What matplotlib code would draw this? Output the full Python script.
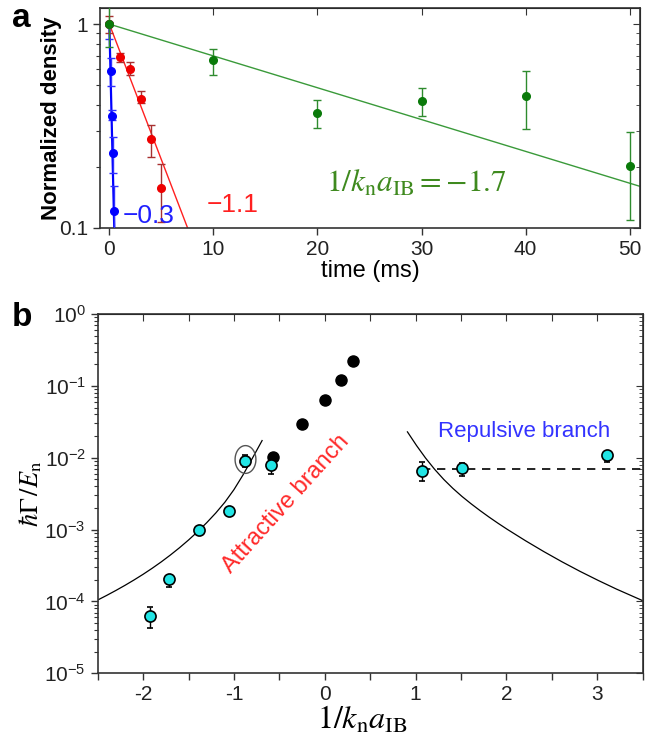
import matplotlib
matplotlib.use("Agg")
import matplotlib.pyplot as plt
import numpy as np
from matplotlib.path import Path
from matplotlib.ticker import FixedLocator, LogLocator, NullFormatter

plt.rcParams["font.family"] = ["Liberation Sans", "DejaVu Sans"]
plt.rcParams["mathtext.fontset"] = "stix"

# --- panel a: density decay ------------------------------------------------
green_t = [0, 10, 20, 30, 40, 50]
green_n = [1.0, 0.667, 0.367, 0.418, 0.445, 0.202]
green_lo = [0.77, 0.56, 0.31, 0.354, 0.305, 0.110]
green_hi = [1.3, 0.754, 0.425, 0.484, 0.59, 0.297]
green_fit_t = [0, 51]
green_fit_n = [1.0, 0.16]

red_t = [0, 1, 2, 3, 4, 5]
red_n = [1.0, 0.69, 0.60, 0.43, 0.273, 0.157]
red_lo = [0.9, 0.653, 0.56, 0.41, 0.224, 0.107]
red_hi = [1.09, 0.723, 0.65, 0.47, 0.32, 0.206]
red_fit_t = [0, 7.52]
red_fit_n = [1.0, 0.1]

blue_t = [0, 0.19, 0.29, 0.35, 0.45]
blue_n = [1.0, 0.59, 0.355, 0.234, 0.121]
blue_lo = [0.85, 0.498, 0.338, 0.187, 0.09]
blue_hi = [1.0, 0.684, 0.378, 0.28, 0.161]
blue_fit_t = [0, 0.47]
blue_fit_n = [1.0, 0.1]

# --- panel b: decay rate vs interaction -------------------------------------
att_x = [-1.92, -1.71, -1.39, -1.055, -0.88, -0.59]
att_y = [6.3e-5, 2.04e-4, 9.8e-4, 1.84e-3, 9.1e-3, 8.0e-3]
att_lo = [4.3e-5, 1.6e-4, 9.0e-4, 1.7e-3, 7.4e-3, 5.9e-3]
att_hi = [8.3e-5, 2.3e-4, 1.05e-3, 2.0e-3, 1.08e-2, 9.6e-3]

rep_x = [1.075, 1.51, 3.11]
rep_y = [6.6e-3, 7.1e-3, 1.08e-2]
rep_lo = [4.8e-3, 5.5e-3, 8.6e-3]
rep_hi = [8.65e-3, 8.5e-3, 1.2e-2]

blk_x = [-0.57, -0.254, 0.0, 0.184, 0.31]
blk_y = [1.04e-2, 2.98e-2, 6.4e-2, 0.121, 0.222]
blk_lo = [0.95e-2, 2.8e-2, 6.0e-2, 0.113, 0.20]
blk_hi = [1.15e-2, 3.1e-2, 6.8e-2, 0.128, 0.235]

plateau_x = [1.075, 3.5]
plateau_y = [6.9e-3, 6.9e-3]

# theory curves
att_curve_x = [-2.5, -2.4, -2.3, -2.2, -2.1, -2.0, -1.9, -1.8, -1.7, -1.6,
               -1.5, -1.4, -1.3, -1.2, -1.1, -1.0, -0.9, -0.8, -0.69]
att_curve_y = [1.047e-4, 1.216e-4, 1.422e-4, 1.675e-4, 1.991e-4, 2.388e-4,
               2.897e-4, 3.556e-4, 4.426e-4, 5.585e-4, 7.161e-4, 9.354e-4,
               1.247e-3, 1.702e-3, 2.404e-3, 3.597e-3, 5.768e-3, 9.683e-3,
               1.734e-2]
rep_curve_x = [0.91, 1.01, 1.11, 1.21, 1.31, 1.41, 1.51, 1.61, 1.71, 1.81,
               1.91, 2.01, 2.21, 2.41, 2.61, 2.81, 3.01, 3.21, 3.5]
rep_curve_y = [2.291e-2, 1.479e-2, 9.886e-3, 6.887e-3, 4.989e-3, 3.750e-3,
               2.897e-3, 2.291e-3, 1.837e-3, 1.489e-3, 1.219e-3, 1.007e-3,
               6.998e-4, 4.955e-4, 3.573e-4, 2.624e-4, 1.963e-4, 1.489e-4,
               1.026e-4]

circled_pt = (-0.883, 9.5e-3)


def yerr(vals, lo, hi):
    v = np.array(vals)
    return [v - np.array(lo), np.array(hi) - v]


def frame(ax):
    # bottom/left ticks outward, top/right ticks inward (Origin style)
    for s in ax.spines.values():
        s.set_color("#333333")
        s.set_linewidth(1.2)
    ax.tick_params(which="major", direction="out", length=5, width=1.0,
                   labelsize=15, colors="#333333", labelcolor="#222222")
    ax.tick_params(which="minor", direction="out", length=3, width=0.8,
                   colors="#333333")
    top = ax.secondary_xaxis("top")
    top.tick_params(which="both", direction="in", labeltop=False, length=5,
                    colors="#333333")
    top.set_xticks(ax.get_xticks())
    right = ax.secondary_yaxis("right")
    right.tick_params(which="major", direction="in", labelright=False,
                      length=5, colors="#333333")
    right.tick_params(which="minor", direction="in", length=3,
                      colors="#333333")


fig = plt.figure(figsize=(6.6, 7.45), dpi=100)
ax_a = fig.add_axes([0.1515, 0.694, 0.8182, 0.2953])
ax_b = fig.add_axes([0.148, 0.0962, 0.8258, 0.4823])

# --- panel a ---------------------------------------------------------------
ax_a.set_yscale("log")
ax_a.plot(green_fit_t, green_fit_n, color="#3a9a3a", lw=1.0, zorder=2)
ax_a.plot(red_fit_t, red_fit_n, color="#ff2020", lw=1.0, zorder=2)
ax_a.plot(blue_fit_t, blue_fit_n, color="#0000ff", lw=1.6, zorder=2)

ax_a.errorbar(blue_t, blue_n, yerr=yerr(blue_n, blue_lo, blue_hi), fmt="o",
              ms=5.5, color="#0000ff", ecolor="#3030ff", elinewidth=1.0,
              capsize=3, zorder=3)
ax_a.errorbar(red_t, red_n, yerr=yerr(red_n, red_lo, red_hi), fmt="o",
              ms=5.5, color="#ee0000", ecolor="#a83030", elinewidth=1.0,
              capsize=3, zorder=3)
ax_a.errorbar(green_t, green_n, yerr=yerr(green_n, green_lo, green_hi),
              fmt="o", ms=5.5, color="#0a7a0a", ecolor="#2e8b2e",
              elinewidth=1.0, capsize=3, zorder=4)

ax_a.set_xlim(-0.9, 51)
ax_a.set_ylim(0.1, 1.2)
ax_a.set_xticks([0, 10, 20, 30, 40, 50])
ax_a.yaxis.set_major_locator(FixedLocator([0.1, 1]))
ax_a.set_yticklabels(["0.1", "1"])
ax_a.yaxis.set_minor_locator(LogLocator(base=10, subs=np.arange(2, 10)))
ax_a.yaxis.set_minor_formatter(NullFormatter())
frame(ax_a)
ax_a.set_xlabel("time (ms)", fontsize=17, labelpad=1)
ax_a.set_ylabel("Normalized density", fontsize=16, fontweight="bold",
                labelpad=-2)

ax_a.text(1.3, 0.115, "\u22120.3", color="#2020ff", fontsize=19,
          va="center", ha="left")
ax_a.text(9.4, 0.13, "\u22121.1", color="#ff2020", fontsize=19,
          va="center", ha="left")
ax_a.text(20.8, 0.164, r"$1/k_\mathrm{n}a_\mathrm{IB}=-1.7$",
          color="#3f8a1f", fontsize=22.5, va="center", ha="left")

# --- panel b ---------------------------------------------------------------
ax_b.set_yscale("log")
ax_b.plot(att_curve_x, att_curve_y, color="black", lw=0.9, zorder=2)
ax_b.plot(rep_curve_x, rep_curve_y, color="black", lw=0.9, zorder=2)
ax_b.plot(plateau_x, plateau_y, color="black", lw=1.2, ls=(0, (5, 4)),
          zorder=2)

ax_b.errorbar(blk_x, blk_y, yerr=yerr(blk_y, blk_lo, blk_hi), fmt="o",
              ms=8, color="black", ecolor="black", elinewidth=1.0,
              capsize=2.5, zorder=3)
ax_b.errorbar(att_x, att_y, yerr=yerr(att_y, att_lo, att_hi), fmt="o",
              ms=8, mfc="#22e5e5", mec="black", mew=1.2, ecolor="black",
              elinewidth=1.0, capsize=2.5, zorder=4)
ax_b.errorbar(rep_x, rep_y, yerr=yerr(rep_y, rep_lo, rep_hi), fmt="o",
              ms=8, mfc="#22e5e5", mec="black", mew=1.2, ecolor="black",
              elinewidth=1.0, capsize=2.5, zorder=4)

# ellipse drawn around the highlighted point
theta = np.linspace(0, 2 * np.pi, 60)
ell = Path(np.column_stack([0.75 * np.cos(theta), np.sin(theta)]))
ax_b.plot([circled_pt[0]], [circled_pt[1]], marker=ell, ms=20, mfc="none",
          mec="#555555", mew=1.0, zorder=5)

ax_b.set_xlim(-2.5, 3.5)
ax_b.set_ylim(1e-5, 1)
ax_b.set_xticks(np.arange(-2.5, 3.51, 0.5))
ax_b.set_xticklabels(["" if v % 1 else f"{v:.0f}"
                      for v in np.arange(-2.5, 3.51, 0.5)])
ax_b.yaxis.set_major_locator(LogLocator(base=10, numticks=10))
ax_b.yaxis.set_minor_locator(LogLocator(base=10, subs=np.arange(2, 10),
                                        numticks=20))
ax_b.yaxis.set_minor_formatter(NullFormatter())
frame(ax_b)
ax_b.set_xlabel(r"$1/k_\mathrm{n}a_\mathrm{IB}$", fontsize=23, labelpad=0)
ax_b.xaxis.label.set_x(0.485)
ax_b.set_ylabel(r"$\hbar\Gamma\,/E_\mathrm{n}$", fontsize=19, labelpad=0)

ax_b.text(-0.43, 2.3e-3, "Attractive branch", color="#ff2a2a", fontsize=17,
          rotation=48, ha="center", va="center", rotation_mode="anchor")
ax_b.text(2.19, 2.3e-2, "Repulsive branch", color="#3333ff", fontsize=16,
          ha="center", va="center")

fig.text(0.018, 0.996, "a", fontsize=24, fontweight="bold", va="top")
fig.text(0.018, 0.595, "b", fontsize=24, fontweight="bold", va="top")

fig.savefig("out.png", dpi=100)
